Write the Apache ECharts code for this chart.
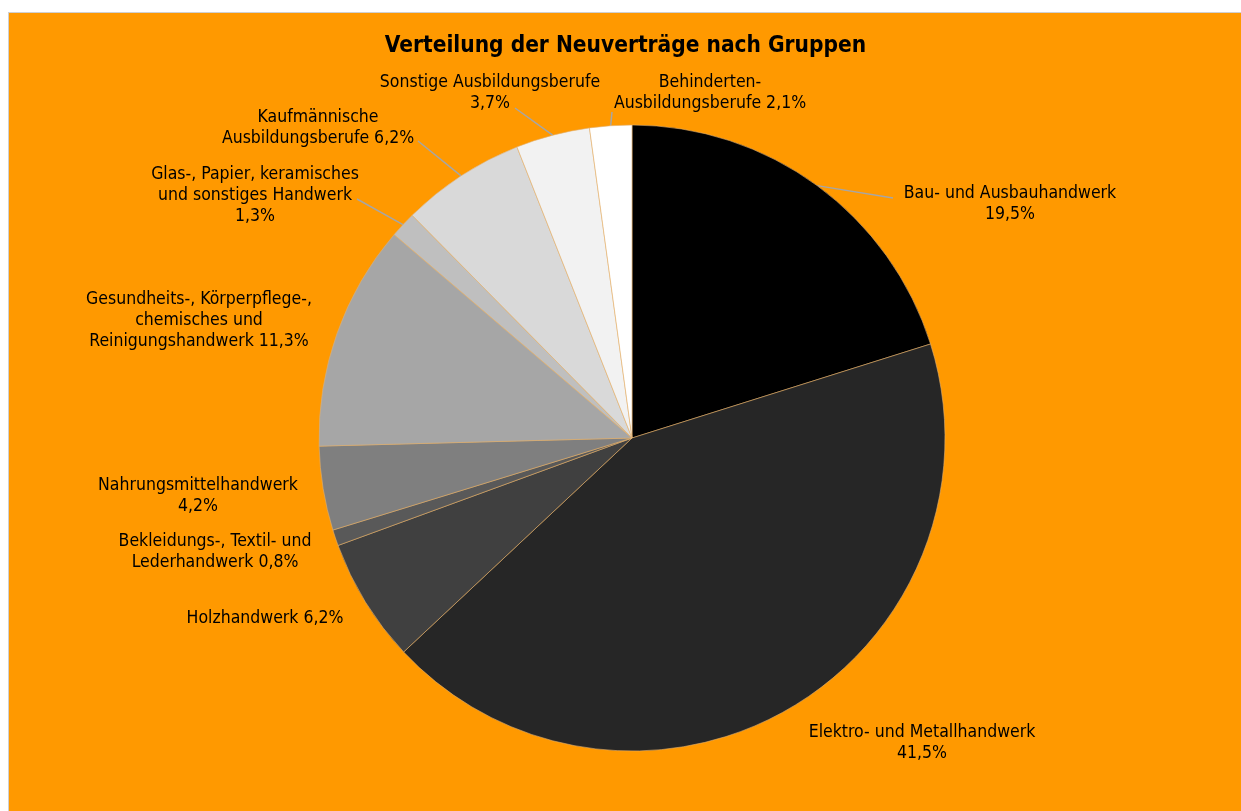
<!DOCTYPE html>
<html>
<head>
<meta charset="utf-8">
<script src="https://cdn.jsdelivr.net/npm/echarts@6/dist/echarts.min.js"></script>
<style>
    html, body { margin: 0; padding: 0; background: #ffffff; }
    #main {
        position: absolute; left: 8px; top: 12px;
        width: 1233px; height: 799px;
        border-left: 1px solid #d0d0d0; border-top: 1px solid #d0d0d0;
        background: #ff9900;
    }
</style>
</head>
<body>
<div id="main"></div>
<script>
// Gruppen (Reihenfolge im Uhrzeigersinn ab 12 Uhr)
var categories = [
    'Bau- und Ausbauhandwerk',
    'Elektro- und Metallhandwerk',
    'Holzhandwerk',
    'Bekleidungs-, Textil- und\nLederhandwerk',
    'Nahrungsmittelhandwerk',
    'Gesundheits-, Körperpflege-,\nchemisches und\nReinigungshandwerk',
    'Glas-, Papier, keramisches\nund sonstiges Handwerk',
    'Kaufmännische\nAusbildungsberufe',
    'Sonstige Ausbildungsberufe',
    'Behinderten-\nAusbildungsberufe'
];
// Anteil in %
var shares = [19.5, 41.5, 6.2, 0.8, 4.2, 11.3, 1.3, 6.2, 3.7, 2.1];
// Prozentwert in eigener Zeile?
var pctOnNewLine = [true, true, false, false, true, false, true, false, true, false];

var sliceColors = ['#000000', '#262626', '#404040', '#595959', '#7f7f7f',
                   '#a6a6a6', '#bfbfbf', '#d9d9d9', '#f2f2f2', '#ffffff'];
// Lage der Beschriftungen (Mittelpunkt, in Pixel im Diagramm)
var labelPos = [[1001, 191], [913, 730], [256, 605], [206, 539], [189, 483],
                [190, 307], [246, 182], [309, 115], [481, 80], [701, 80]];
// Endpunkt der Führungslinie (null = keine Linie)
var lineEnd = [[884, 185], null, null, null, null, null, [348, 186], [409, 128], [506, 95], [603, 99]];

var pieCenter = [623, 425];
var pieRadius = 313;
var fontName = '"DejaVu Sans Condensed", "DejaVu Sans", sans-serif';

var chart = echarts.init(document.getElementById('main'));

var total = shares.reduce(function (a, b) { return a + b; }, 0);

// Punkt am Kreisrand in der Mitte des Segments
function edgePoint(i) {
    var before = 0;
    for (var k = 0; k < i; k++) before += shares[k];
    var ang = (before + shares[i] / 2) / total * 2 * Math.PI;
    return [pieCenter[0] + pieRadius * Math.sin(ang), pieCenter[1] - pieRadius * Math.cos(ang)];
}

var pieData = categories.map(function (name, i) {
    return {
        name: name,
        value: shares[i],
        itemStyle: { color: sliceColors[i] },
        labelLine: { show: lineEnd[i] !== null }
    };
});

chart.setOption({
    animation: false,
    title: {
        text: 'Verteilung der Neuverträge nach Gruppen',
        left: 'center',
        top: 17,
        textStyle: { fontFamily: fontName, fontSize: 22.5, fontWeight: 'bold', color: '#000' }
    },
    series: [{
        type: 'pie',
        center: pieCenter,
        radius: pieRadius,
        startAngle: 90,
        clockwise: true,
        avoidLabelOverlap: false,
        itemStyle: { borderColor: '#e0b070', borderWidth: 0.6 },
        label: {
            show: true,
            position: 'outside',
            fontFamily: fontName,
            fontSize: 17.5,
            lineHeight: 21,
            color: '#000',
            align: 'center',
            formatter: function (p) {
                var pct = p.value.toFixed(1).replace('.', ',') + '%';
                return p.name + (pctOnNewLine[p.dataIndex] ? '\n' : ' ') + pct;
            }
        },
        labelLine: { lineStyle: { color: '#a6a6a6', width: 1.5 } },
        labelLayout: function (p) {
            var i = p.dataIndex;
            var pos = labelPos[i];
            var out = {
                x: pos[0], y: pos[1],
                align: 'center', verticalAlign: 'middle'
            };
            if (lineEnd[i]) {
                var s = edgePoint(i);
                out.labelLinePoints = [s, lineEnd[i], lineEnd[i]];
            }
            return out;
        },
        data: pieData
    }]
});
</script>
</body>
</html>
